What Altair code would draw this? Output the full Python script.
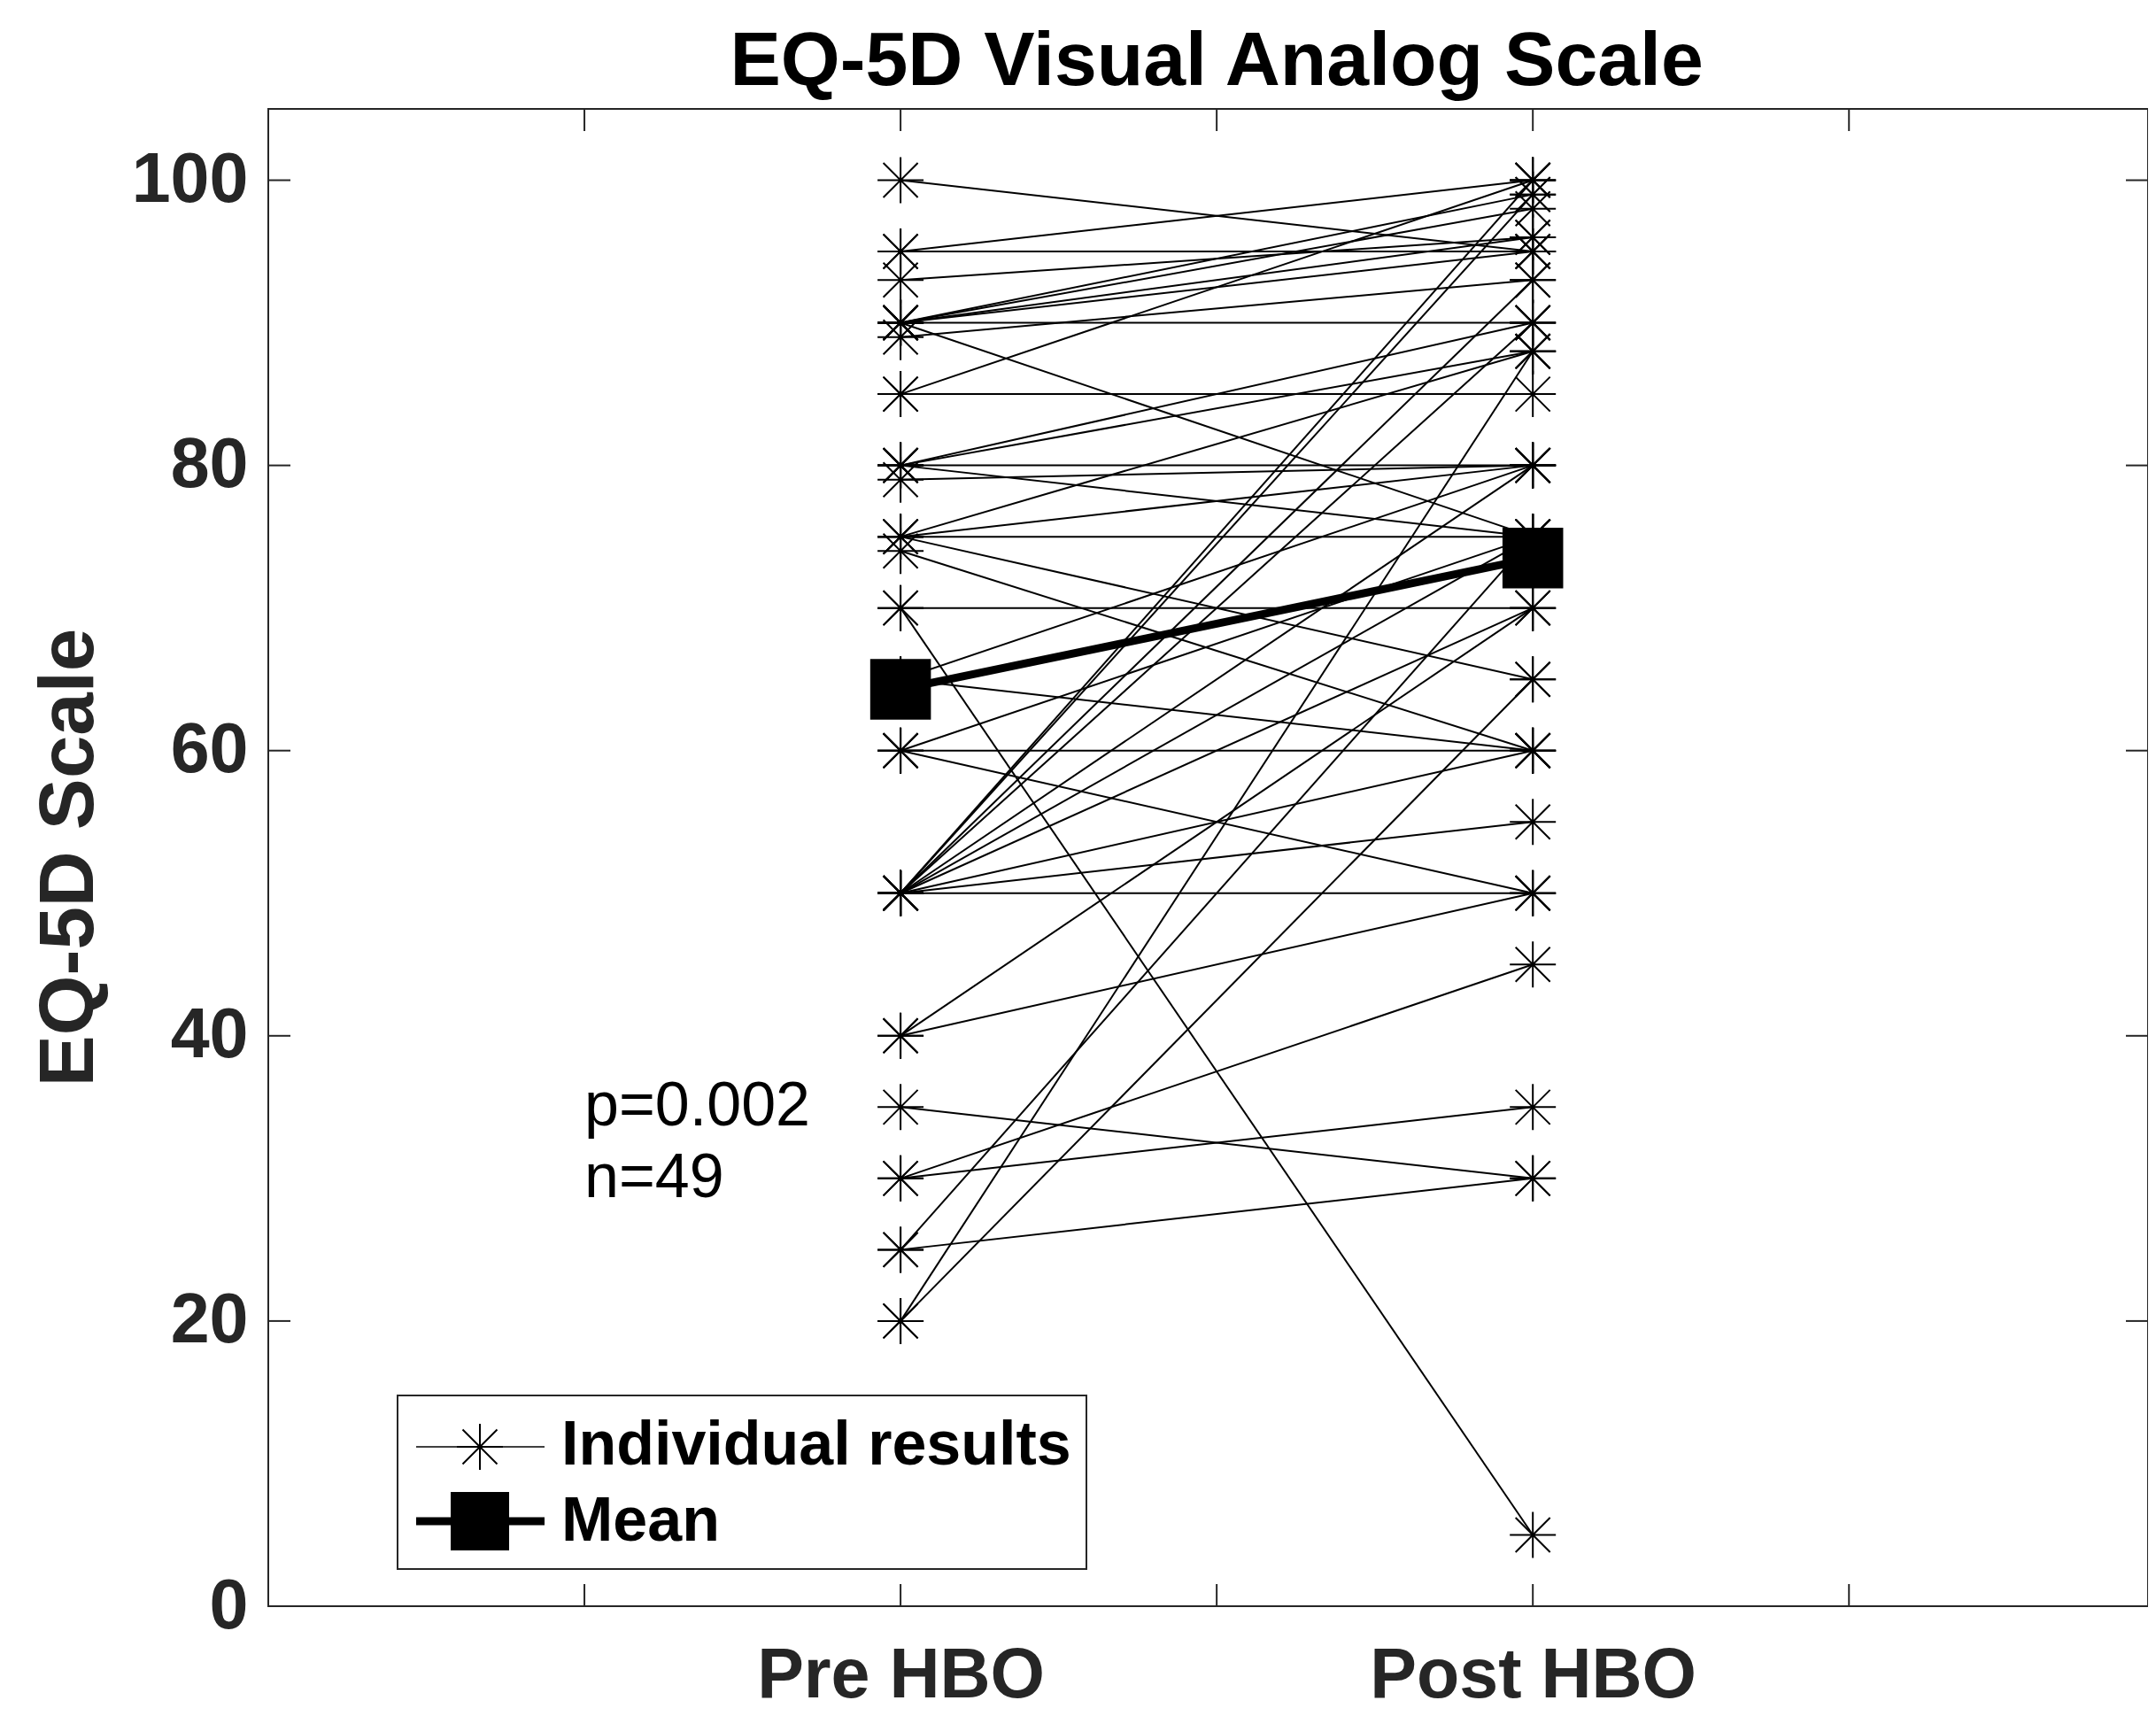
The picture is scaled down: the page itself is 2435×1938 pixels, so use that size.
import altair as alt
import pandas as pd

# ---------------- data ----------------
pre_scores = [100, 95, 95, 93, 90, 90, 90, 90, 90, 90, 89, 85, 85, 80, 80, 80, 80, 79,
              75, 75, 75, 75, 74, 70, 70, 65, 65, 60, 60, 60,
              50, 50, 50, 50, 50, 50, 50, 50, 50, 50, 40, 40, 35, 30, 30, 25, 25, 20, 20]
post_scores = [95, 100, 95, 96, 99, 98, 96, 95, 90, 75, 93, 100, 85, 90, 88, 80, 75, 80,
               88, 80, 75, 65, 60, 70, 5, 80, 60, 60, 75, 50,
               50, 55, 60, 100, 93, 80, 75, 70, 99, 90, 50, 70, 30, 35, 45, 30, 75, 88, 65]
group_pos = [1, 2]
group_labels = ["Pre HBO", "Post HBO"]
mean_scores = [64.3, 73.5]
x_ticks = [0.5, 1, 1.5, 2, 2.5]
y_ticks = [0, 20, 40, 60, 80, 100]
annot_text = ["p=0.002", "n=49"]
annot_x = [0.5, 0.5]
annot_y = [35, 30]
title_text = ["EQ-5D Visual Analog Scale"]
title_x = [1.5]
legend_labels = ["Individual results", "Mean"]

rows = []
for i, (a, b) in enumerate(zip(pre_scores, post_scores)):
    rows.append({"id": i, "x": group_pos[0], "y": a})
    rows.append({"id": i, "x": group_pos[1], "y": b})
ind_df = pd.DataFrame(rows)
mean_df = pd.DataFrame({"x": group_pos, "y": mean_scores})
ann_df = pd.DataFrame({"x": annot_x, "y": annot_y, "t": annot_text})
title_df = pd.DataFrame({"x": title_x, "t": title_text})
xt_df = pd.DataFrame({"x": x_ticks})
yt_df = pd.DataFrame({"y": y_ticks})
one = pd.DataFrame({"a": [0]})

# ---------------- styling ----------------
FONT = "Liberation Sans"
AX = "#262626"
W, H = 2123, 1691
STAR = "M-1,0L1,0M0,-1L0,1M-0.75,-0.75L0.75,0.75M-0.75,0.75L0.75,-0.75"

xs = alt.Scale(domain=[0, 2.973], nice=False, zero=False)
ys = alt.Scale(domain=[0, 105], nice=False, zero=False)

label_expr = "datum.value == 1 ? '%s' : '%s'" % (group_labels[0], group_labels[1])
xaxis = alt.Axis(values=group_pos, labelExpr=label_expr, ticks=False, tickSize=0,
                 domain=False, grid=False, title=None, labelFont=FONT,
                 labelFontSize=79, labelFontWeight="bold", labelColor=AX,
                 labelPadding=40, labelFlush=False, labelLimit=0, labelOverlap=False)
yaxis = alt.Axis(values=y_ticks, ticks=False, tickSize=0, domain=False, grid=False,
                 labelFont=FONT, labelFontSize=79, labelFontWeight="bold",
                 labelColor=AX, labelPadding=23, labelLimit=0, title="EQ-5D Scale",
                 titleFont=FONT, titleFontSize=87, titleFontWeight="bold",
                 titleColor=AX, titleX=-225, titleY=845, titleAngle=270,
                 titleAlign="center", titleBaseline="middle", titleLimit=0)

X = alt.X("x:Q", scale=xs, axis=xaxis)
Y = alt.Y("y:Q", scale=ys, axis=yaxis)

lines = alt.Chart(ind_df).mark_line(color="black", strokeWidth=2).encode(
    x=X, y=Y, detail="id:N")
stars = alt.Chart(ind_df).mark_point(shape=STAR, size=2704, filled=False,
                                     color="black", strokeWidth=2, opacity=1).encode(x=X, y=Y)
mean_line = alt.Chart(mean_df).mark_line(color="black", strokeWidth=9).encode(x=X, y=Y)
mean_pts = alt.Chart(mean_df).mark_point(shape="square", size=4700, filled=True,
                                         color="black", opacity=1).encode(x=X, y=Y)
ann = alt.Chart(ann_df).mark_text(align="left", baseline="middle", font=FONT,
                                  fontSize=70, color="black").encode(x=X, y=Y, text="t:N")

title = alt.Chart(title_df).mark_text(align="center", baseline="middle",
                                      font=FONT, fontSize=86, fontWeight="bold",
                                      color="black").encode(
    x=X, y=alt.value(-53), text="t:N")

tick_kw = dict(color=AX, strokeWidth=2)
xt_bot = alt.Chart(xt_df).mark_rule(**tick_kw).encode(
    x=X, y=alt.value(H), y2=alt.value(H - 25))
xt_top = alt.Chart(xt_df).mark_rule(**tick_kw).encode(
    x=X, y=alt.value(0), y2=alt.value(25))
yt_left = alt.Chart(yt_df).mark_rule(**tick_kw).encode(
    y=Y, x=alt.value(0), x2=alt.value(25))
yt_right = alt.Chart(yt_df).mark_rule(**tick_kw).encode(
    y=Y, x=alt.value(W - 25), x2=alt.value(W))

# legend (drawn by hand, MATLAB style)
leg_box = alt.Chart(one).mark_rect(fill="white", stroke=AX, strokeWidth=2).encode(
    x=alt.value(146), x2=alt.value(924), y=alt.value(1453), y2=alt.value(1649))
leg_l1 = alt.Chart(one).mark_rule(color="black", strokeWidth=1.6).encode(
    x=alt.value(167), x2=alt.value(312), y=alt.value(1511))
leg_s1 = alt.Chart(one).mark_point(shape=STAR, size=2704, filled=False, color="black",
                                   strokeWidth=2, opacity=1).encode(
    x=alt.value(239), y=alt.value(1511))
leg_l2 = alt.Chart(one).mark_rule(color="black", strokeWidth=9).encode(
    x=alt.value(167), x2=alt.value(312), y=alt.value(1595))
leg_s2 = alt.Chart(one).mark_point(shape="square", size=4356, filled=True, color="black",
                                   opacity=1).encode(x=alt.value(239), y=alt.value(1595))
leg_t1 = alt.Chart(one).mark_text(text=legend_labels[0], align="left", baseline="middle",
                                  font=FONT, fontSize=70, fontWeight="bold",
                                  color="black").encode(x=alt.value(331), y=alt.value(1510))
leg_t2 = alt.Chart(one).mark_text(text=legend_labels[1], align="left", baseline="middle",
                                  font=FONT, fontSize=70, fontWeight="bold",
                                  color="black").encode(x=alt.value(331), y=alt.value(1596))

chart = alt.layer(
    lines, stars, mean_line, mean_pts, ann, title,
    xt_bot, xt_top, yt_left, yt_right,
    leg_box, leg_l1, leg_s1, leg_l2, leg_s2, leg_t1, leg_t2
).properties(
    width=W, height=H,
    autosize=alt.AutoSizeParams(type="none"),
    padding={"left": 295, "top": 115, "right": 0, "bottom": 104},
    background="white",
).configure_view(stroke=AX, strokeWidth=2)

chart.save("out.html", embed_options={"renderer": "svg", "actions": False})
